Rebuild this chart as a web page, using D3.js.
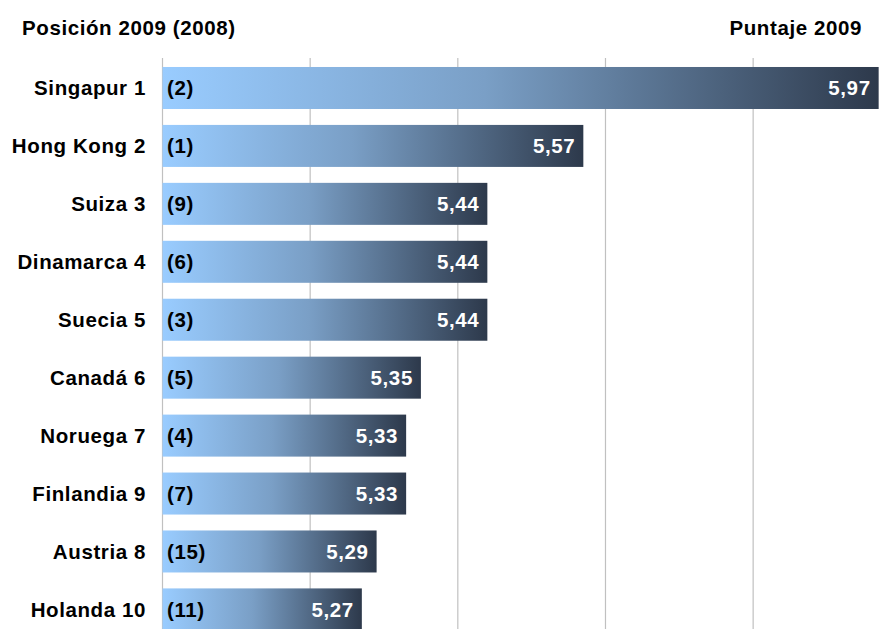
<!DOCTYPE html>
<html><head><meta charset="utf-8">
<script src="https://cdn.jsdelivr.net/npm/d3@7"></script>
<style>html,body{margin:0;padding:0;background:#fff;}svg{display:block;font-family:"Liberation Sans",Arial,sans-serif;font-weight:bold;}</style>
</head><body>
<svg id="c" width="886" height="629"></svg>
<script>
const countries = ["Singapur 1","Hong Kong 2","Suiza 3","Dinamarca 4","Suecia 5","Canadá 6","Noruega 7","Finlandia 9","Austria 8","Holanda 10"];
const prev2008 = ["(2)","(1)","(9)","(6)","(3)","(5)","(4)","(7)","(15)","(11)"];
const scores = [5.97,5.57,5.44,5.44,5.44,5.35,5.33,5.33,5.29,5.27];
const gridTicks = [5.0,5.2,5.4,5.6,5.8];

const svg = d3.select("#c");
const x = d3.scaleLinear().domain([5,6]).range([162.5,900.8]);
const y = d3.scaleBand().domain(countries).range([55.4,642]).paddingInner(0.275).paddingOuter(0.2);

const defs = svg.append("defs");
const grad = defs.append("linearGradient").attr("id","g").attr("x1","0").attr("x2","1").attr("y1","0").attr("y2","0");
grad.append("stop").attr("offset","0").attr("stop-color","#99CCFF");
grad.append("stop").attr("offset","0.45").attr("stop-color","#7A9FC6");
grad.append("stop").attr("offset","1").attr("stop-color","#2D394B");

svg.append("g").selectAll("line").data(gridTicks).join("line")
  .attr("x1",d=>x(d)).attr("x2",d=>x(d)).attr("y1",58).attr("y2",629)
  .attr("stroke","#C0C0C0").attr("stroke-width",1.2);

svg.append("g").selectAll("rect").data(scores).join("rect")
  .attr("x",x(5)).attr("y",(d,i)=>y(countries[i]))
  .attr("width",d=>x(d)-x(5)).attr("height",y.bandwidth())
  .attr("fill","url(#g)");

const fs = 20.5, ls = 0.6;
svg.append("g").selectAll("text").data(countries).join("text")
  .attr("x",146).attr("y",d=>y(d)+y.bandwidth()/2).attr("dy","0.36em")
  .attr("text-anchor","end").attr("font-size",fs).attr("letter-spacing",ls).attr("fill","#000").text(d=>d);

svg.append("g").selectAll("text").data(prev2008).join("text")
  .attr("x",167).attr("y",(d,i)=>y(countries[i])+y.bandwidth()/2).attr("dy","0.36em")
  .attr("font-size",fs).attr("letter-spacing",ls).attr("fill","#000").text(d=>d);

svg.append("g").selectAll("text").data(scores).join("text")
  .attr("x",d=>x(d)-8).attr("y",(d,i)=>y(countries[i])+y.bandwidth()/2).attr("dy","0.36em")
  .attr("text-anchor","end").attr("font-size",fs).attr("letter-spacing",ls).attr("fill","#fff")
  .text(d=>d.toFixed(2).replace(".",","));

svg.append("text").attr("x",22).attr("y",35).attr("font-size",fs).attr("letter-spacing",ls).text("Posición 2009 (2008)");
svg.append("text").attr("x",862).attr("y",35).attr("text-anchor","end").attr("font-size",fs).attr("letter-spacing",ls).text("Puntaje 2009");
</script>
</body></html>
